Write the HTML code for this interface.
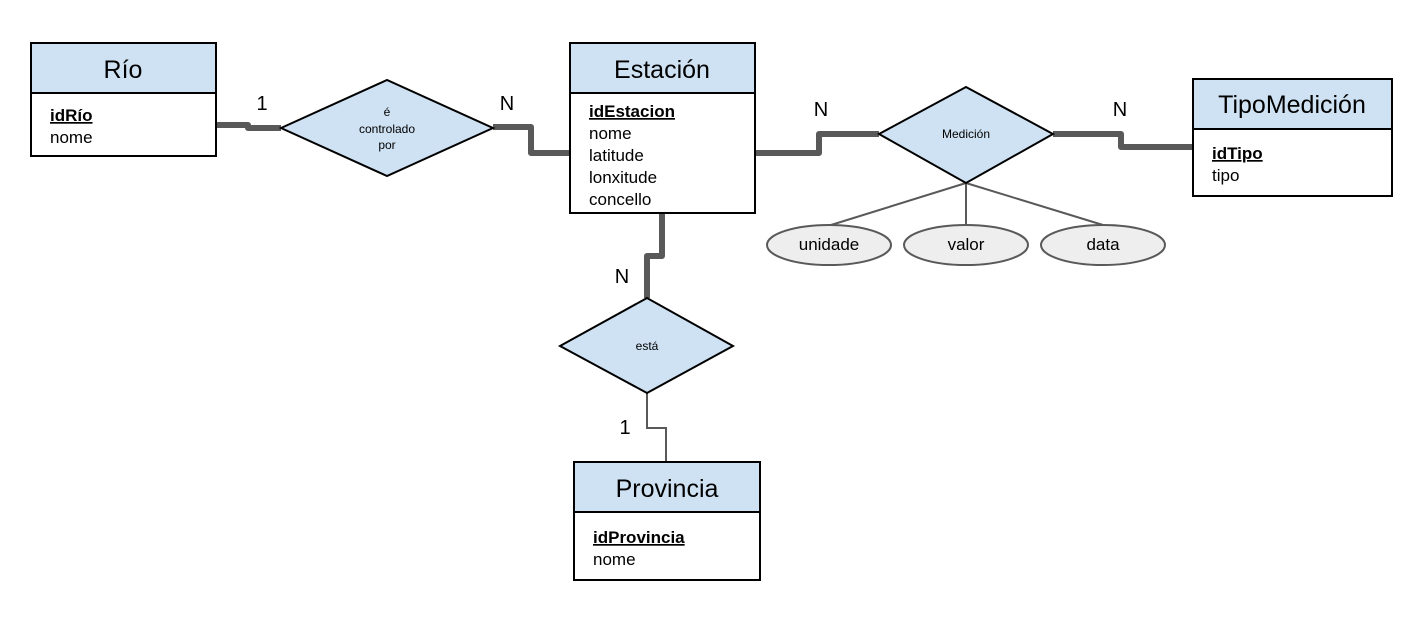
<!DOCTYPE html>
<html><head><meta charset="utf-8"><style>
html,body{margin:0;padding:0;background:#fff;}
svg{display:block;font-family:"Liberation Sans",sans-serif;}
</style></head><body>
<svg width="1417" height="630" viewBox="0 0 1417 630" xmlns="http://www.w3.org/2000/svg">
<g fill="none" stroke="#595959" stroke-width="6" stroke-linejoin="round">
<polyline points="216,125 248,125 248,128 281,128"/>
<polyline points="493,127 531,127 531,153 570,153"/>
<polyline points="755,153 819,153 819,134 879,134"/>
<polyline points="1053,134 1121,134 1121,147 1193,147"/>
<polyline points="662,213 662,256 647,256 647,298"/>
</g>
<polyline points="647,393 647,428 666,428 666,462" fill="none" stroke="#595959" stroke-width="2"/>
<g stroke="#595959" stroke-width="2">
<line x1="966" y1="183" x2="831" y2="225"/>
<line x1="966" y1="183" x2="966" y2="225"/>
<line x1="966" y1="183" x2="1103" y2="225"/>
</g>
<g fill="#cfe2f3" stroke="#000" stroke-width="2">
<polygon points="281,128 387,80 493,128 387,176"/>
<polygon points="879,134 966,87 1053,134 966,183"/>
<polygon points="560,346 647,298 733,346 647,393"/>
</g>
<g fill="#eeeeee" stroke="#595959" stroke-width="2">
<ellipse cx="829" cy="245" rx="62" ry="20"/>
<ellipse cx="966" cy="245" rx="62" ry="20"/>
<ellipse cx="1103" cy="245" rx="62" ry="20"/>
</g>
<g stroke="#000" stroke-width="2">
<rect x="31" y="43" width="185" height="50" fill="#cfe2f3"/><rect x="31" y="93" width="185" height="63" fill="#fff"/>
<rect x="570" y="43" width="185" height="50" fill="#cfe2f3"/><rect x="570" y="93" width="185" height="120" fill="#fff"/>
<rect x="1193" y="79" width="199" height="50" fill="#cfe2f3"/><rect x="1193" y="129" width="199" height="67" fill="#fff"/>
<rect x="574" y="462" width="186" height="50" fill="#cfe2f3"/><rect x="574" y="512" width="186" height="68" fill="#fff"/>
</g>
<g fill="#000" font-size="25" text-anchor="middle">
<text x="123" y="78">Río</text>
<text x="662" y="78">Estación</text>
<text x="1292" y="113">TipoMedición</text>
<text x="667" y="497">Provincia</text>
</g>
<g fill="#000" font-size="17">
<text x="50" y="121" font-weight="bold" text-decoration="underline">idRío</text>
<text x="50" y="143">nome</text>
<text x="589" y="117" font-weight="bold" text-decoration="underline">idEstacion</text>
<text x="589" y="139">nome</text>
<text x="589" y="161">latitude</text>
<text x="589" y="183">lonxitude</text>
<text x="589" y="205">concello</text>
<text x="1212" y="159" font-weight="bold" text-decoration="underline">idTipo</text>
<text x="1212" y="181">tipo</text>
<text x="593" y="543" font-weight="bold" text-decoration="underline">idProvincia</text>
<text x="593" y="565">nome</text>
<text x="829" y="250" text-anchor="middle">unidade</text>
<text x="966" y="250" text-anchor="middle">valor</text>
<text x="1103" y="250" text-anchor="middle">data</text>
</g>
<g fill="#000" font-size="12" text-anchor="middle">
<text x="387" y="116">é</text>
<text x="387" y="133">controlado</text>
<text x="387" y="149">por</text>
<text x="966" y="138">Medición</text>
<text x="647" y="350">está</text>
</g>
<g fill="#000" font-size="20" text-anchor="middle">
<text x="262" y="110">1</text>
<text x="507" y="110">N</text>
<text x="821" y="116">N</text>
<text x="1120" y="116">N</text>
<text x="622" y="283">N</text>
<text x="625" y="434">1</text>
</g>
</svg>
</body></html>
